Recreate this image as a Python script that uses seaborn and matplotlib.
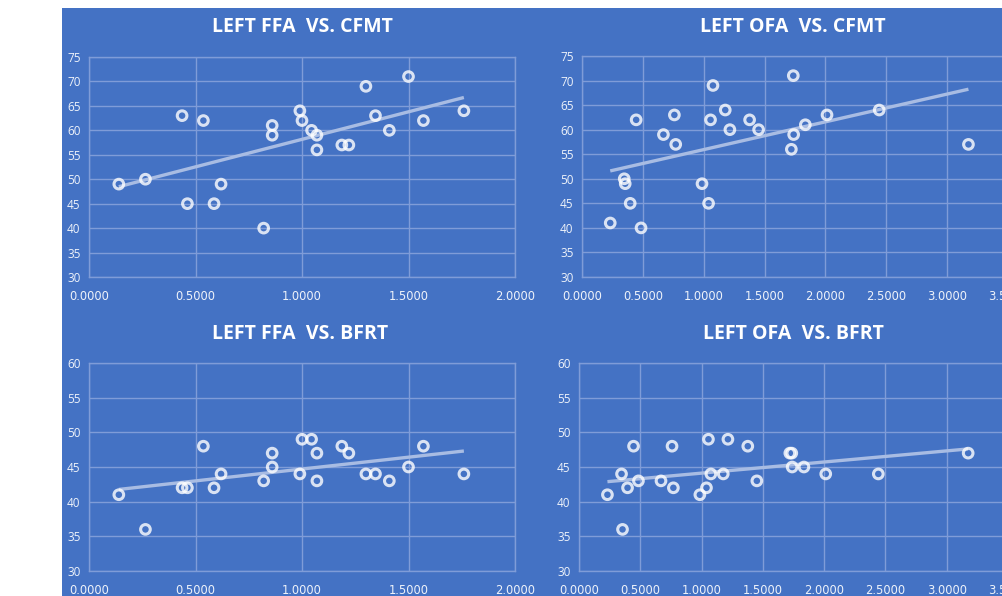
import matplotlib
matplotlib.use("Agg")
import matplotlib.pyplot as plt
from matplotlib.patches import Rectangle
import seaborn as sns

# Left FFA activation index and behavioural scores
ffa_x = [0.14, 0.265, 0.437, 0.462, 0.537, 0.587, 0.62, 0.82, 0.86, 0.86,
         0.99, 1.0, 1.045, 1.07, 1.07, 1.187, 1.22, 1.30, 1.345, 1.41,
         1.50, 1.57, 1.76]
ffa_cfmt = [49, 50, 63, 45, 62, 45, 49, 40, 61, 59,
            64, 62, 60, 59, 56, 57, 57, 69, 63, 60,
            71, 62, 64]
ffa_bfrt = [41, 36, 42, 42, 48, 42, 44, 43, 47, 45,
            44, 49, 49, 47, 43, 48, 47, 44, 44, 43,
            45, 48, 44]

# Left OFA activation index and behavioural scores
ofa_x = [0.232, 0.347, 0.355, 0.396, 0.445, 0.485, 0.669, 0.759, 0.77, 0.986,
         1.04, 1.056, 1.076, 1.177, 1.215, 1.377, 1.451, 1.72, 1.736, 1.739,
         1.835, 2.013, 2.442, 3.175]
ofa_cfmt = [41, 50, 49, 45, 62, 40, 59, 63, 57, 49,
            45, 62, 69, 64, 60, 62, 60, 56, 71, 59,
            61, 63, 64, 57]
ofa_bfrt = [41, 44, 36, 42, 48, 43, 43, 48, 42, 41,
            42, 49, 44, 44, 49, 48, 43, 47, 47, 45,
            45, 44, 44, 47]

titles = ["LEFT FFA  VS. CFMT", "LEFT OFA  VS. CFMT",
          "LEFT FFA  VS. BFRT", "LEFT OFA  VS. BFRT"]

BG = "#4472C4"
GRID = "#7F9CD8"
TREND = "#A8BCE3"
TEXT = "#EEF2FA"

sns.set_theme(style="white")
plt.rcParams["font.family"] = ["Open Sans", "DejaVu Sans"]

W, H = 1003, 596
fig = plt.figure(figsize=(W / 100, H / 100), dpi=100)
fig.patch.set_facecolor("white")
fig.add_artist(Rectangle((62 / W, 0), 1 - 62 / W, 1 - 8 / H,
                         transform=fig.transFigure, facecolor=BG,
                         edgecolor="none", zorder=0))


def px_axes(x0, x1, y0, y1):
    return fig.add_axes([x0 / W, 1 - y1 / H, (x1 - x0) / W, (y1 - y0) / H])


panels = [
    (px_axes(89, 515, 57, 277), ffa_x, ffa_cfmt, (0, 2.0), (30, 75), 2, titles[0], 302, 27),
    (px_axes(582, 1008, 56, 277), ofa_x, ofa_cfmt, (0, 3.5), (30, 75), 3.5, titles[1], 793, 27),
    (px_axes(89, 515, 363, 571), ffa_x, ffa_bfrt, (0, 2.0), (30, 60), 2, titles[2], 300, 334),
    (px_axes(579, 1008, 363, 571), ofa_x, ofa_bfrt, (0, 3.5), (30, 60), 3.5, titles[3], 793, 334),
]

for ax, xs, ys, xlim, ylim, xmax, title, tx, ty in panels:
    ax.set_facecolor("none")
    sns.regplot(x=xs, y=ys, ax=ax, ci=None, truncate=True,
                scatter_kws=dict(s=48, facecolors="none", edgecolors="white",
                                 linewidths=2.2, zorder=4),
                line_kws=dict(color=TREND, lw=2.4, solid_capstyle="butt", zorder=3))
    ax.set_xlim(*xlim)
    ax.set_ylim(*ylim)
    step = 0.5
    nx = int(round(xmax / step)) + 1
    ax.set_xticks([i * step for i in range(nx)])
    ax.set_xticklabels([f"{i * step:.4f}" for i in range(nx)])
    ax.set_yticks(list(range(ylim[0], ylim[1] + 1, 5)))
    ax.grid(True, color=GRID, lw=1.0)
    ax.set_axisbelow(True)
    for s in ax.spines.values():
        s.set_color(GRID)
        s.set_linewidth(1.0)
    ax.tick_params(axis="both", length=0, colors=TEXT, labelsize=8.5)
    ax.tick_params(axis="x", pad=9)
    ax.tick_params(axis="y", pad=6)
    for lab in ax.get_xticklabels():
        lab.set_fontfamily(["DejaVu Sans"])
        lab.set_fontsize(8.3)
    fig.text(tx / W, 1 - ty / H, title, ha="center", va="center",
             color="white", fontsize=14, fontweight="bold")

fig.savefig("out.png", dpi=100, facecolor=fig.get_facecolor())
